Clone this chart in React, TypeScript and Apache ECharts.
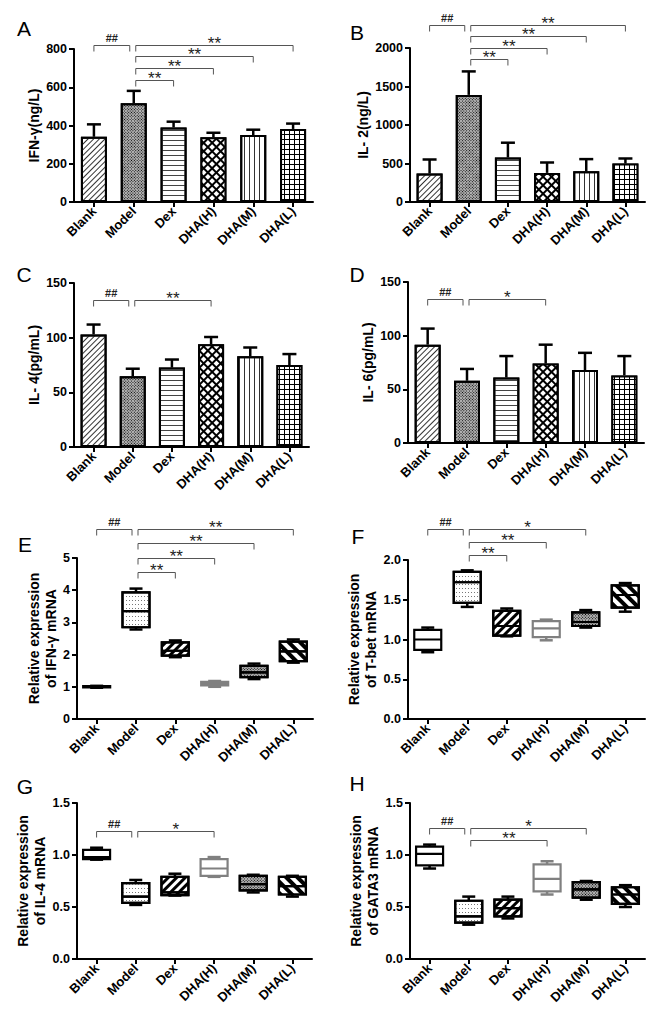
import React, { useEffect, useRef } from 'react';
import * as echarts from 'echarts';

const categories = ['Blank', 'Model', 'Dex', 'DHA(H)', 'DHA(M)', 'DHA(L)'];

// Panel A-D: mean and SD (upper error bar)
const ifnMean = [341, 516, 390, 339, 350, 382];
const ifnSd = [65, 65, 30, 23, 28, 28];
const il2Mean = [370, 1391, 578, 378, 400, 500];
const il2Sd = [182, 305, 192, 135, 157, 65];
const il4Mean = [103, 64.6, 72.6, 94, 83, 75];
const il4Sd = [9, 7, 7.4, 6.6, 8, 10];
const il6Mean = [91.6, 58, 61, 74, 68, 63];
const il6Sd = [15, 11, 20, 17.6, 16, 18];

// Panel E-H: [min, Q1, median, Q3, max]
const ifnMrna = [
  [0.97, 0.98, 1.0, 1.02, 1.03],
  [2.78, 2.85, 3.35, 3.93, 4.05],
  [1.92, 1.97, 2.12, 2.38, 2.44],
  [1.0, 1.04, 1.1, 1.15, 1.18],
  [1.24, 1.3, 1.45, 1.65, 1.72],
  [1.75, 1.8, 2.1, 2.4, 2.47],
];
const tbetMrna = [
  [0.84, 0.87, 1.0, 1.12, 1.15],
  [1.41, 1.46, 1.72, 1.85, 1.87],
  [1.04, 1.05, 1.17, 1.36, 1.39],
  [0.99, 1.03, 1.14, 1.23, 1.25],
  [1.15, 1.17, 1.22, 1.34, 1.37],
  [1.35, 1.4, 1.56, 1.68, 1.71],
];
const il4Mrna = [
  [0.955, 0.96, 0.98, 1.05, 1.07],
  [0.52, 0.54, 0.6, 0.73, 0.76],
  [0.61, 0.615, 0.64, 0.79, 0.82],
  [0.79, 0.8, 0.87, 0.96, 0.98],
  [0.64, 0.66, 0.72, 0.8, 0.81],
  [0.6, 0.62, 0.7, 0.79, 0.8],
];
const gata3Mrna = [
  [0.87, 0.9, 1.01, 1.08, 1.1],
  [0.33, 0.35, 0.41, 0.56, 0.6],
  [0.39, 0.41, 0.49, 0.57, 0.6],
  [0.62, 0.65, 0.77, 0.91, 0.94],
  [0.57, 0.59, 0.67, 0.74, 0.75],
  [0.5, 0.53, 0.62, 0.69, 0.71],
];

// significance brackets: [fromIndex, toIndex, level (axis units), label]
const sigA = [[0, 1, 823, '##'], [1, 5, 823, '**'], [1, 4, 761, '**'], [1, 3, 700, '**'], [1, 2, 639, '**']];
const sigB = [[0, 1, 2304, '##'], [1, 5, 2304, '**'], [1, 4, 2160, '**'], [1, 3, 2000, '**'], [1, 2, 1857, '**']];
const sigC = [[0, 1, 134, '##'], [1, 3, 134, '**']];
const sigD = [[0, 1, 134, '##'], [1, 3, 134, '*']];
const sigE = [[0, 1, 5.9, '##'], [1, 5, 5.9, '**'], [1, 4, 5.48, '**'], [1, 3, 5.0, '**'], [1, 2, 4.58, '**']];
const sigF = [[0, 1, 2.388, '##'], [1, 4, 2.388, '*'], [1, 3, 2.23, '**'], [1, 2, 2.06, '**']];
const sigG = [[0, 1, 1.229, '##'], [1, 3, 1.229, '*']];
const sigH = [[0, 1, 1.26, '##'], [1, 4, 1.26, '*'], [1, 3, 1.147, '**']];

const FONT = '"Liberation Sans", Arial, sans-serif';

const checker = { symbol: 'rect', symbolSize: 1, dashArrayX: [1, 1], dashArrayY: [1, 1], rotation: Math.PI / 4, color: '#000' };

const barDecals: any[] = [
  { item: '#fff', decal: { symbol: 'rect', symbolSize: 1, dashArrayX: [1, 0], dashArrayY: [1, 3], rotation: -Math.PI / 4, color: '#333' } },
  { item: '#b5b5b5', decal: checker },
  { item: '#fff', decal: { symbol: 'rect', symbolSize: 1, dashArrayX: [1, 0], dashArrayY: [1, 3.3], color: '#444' } },
  { item: '#000', decal: { symbol: 'rect', symbolSize: 1, dashArrayX: [3.5, 2], dashArrayY: [3.5, 2], rotation: Math.PI / 4, color: '#fff' } },
  { item: '#fff', decal: { symbol: 'rect', symbolSize: 1, dashArrayX: [1, 0], dashArrayY: [1, 4], rotation: Math.PI / 2, color: '#333' } },
  { item: '#000', decal: { symbol: 'rect', symbolSize: 1, dashArrayX: [4, 1], dashArrayY: [4, 1], color: '#fff' } },
];

const boxStyles: any[] = [
  { item: '#fff', border: '#000', decal: null },
  { item: '#fff', border: '#000', decal: { symbol: 'rect', symbolSize: 1, dashArrayX: [1, 2], dashArrayY: [1, 3], color: '#777' } },
  { item: '#fff', border: '#000', decal: { symbol: 'rect', symbolSize: 1, dashArrayX: [1, 0], dashArrayY: [3, 3], rotation: -Math.PI / 4, color: '#000' } },
  { item: '#fff', border: '#808080', decal: null },
  { item: '#b5b5b5', border: '#000', decal: checker },
  { item: '#fff', border: '#000', decal: { symbol: 'rect', symbolSize: 1, dashArrayX: [1, 0], dashArrayY: [3.5, 3.5], rotation: Math.PI / 4, color: '#000' } },
];

const barPanels = [
  { letter: 'A', mean: ifnMean, sd: ifnSd, sig: sigA, max: 800, interval: 200, name: 'IFN-γ(ng/L)', grid: { left: 74, top: 49, width: 239, height: 153 }, nameGap: 28, lp: [24, 28] },
  { letter: 'B', mean: il2Mean, sd: il2Sd, sig: sigB, max: 2000, interval: 500, name: 'IL- 2(ng/L)', grid: { left: 410, top: 48, width: 235, height: 154 }, nameGap: 34, lp: [357, 32] },
  { letter: 'C', mean: il4Mean, sd: il4Sd, sig: sigC, max: 150, interval: 50, name: 'IL- 4(pg/mL)', grid: { left: 74, top: 283, width: 235, height: 164 }, nameGap: 28, lp: [24, 274] },
  { letter: 'D', mean: il6Mean, sd: il6Sd, sig: sigD, max: 150, interval: 50, name: 'IL- 6(pg/mL)', grid: { left: 408, top: 282, width: 236, height: 161 }, nameGap: 28, lp: [357, 274] },
];

const boxPanels = [
  { letter: 'E', data: ifnMrna, sig: sigE, max: 5, interval: 1, dec: 0, name: 'Relative expression\nof IFN-γ mRNA', grid: { left: 77, top: 558, width: 236, height: 161 }, nameGap: 9, lp: [25, 544] },
  { letter: 'F', data: tbetMrna, sig: sigF, max: 2, interval: 0.5, dec: 1, name: 'Relative expression\nof T-bet mRNA', grid: { left: 408, top: 560, width: 237, height: 159 }, nameGap: 17, lp: [358, 536] },
  { letter: 'G', data: il4Mrna, sig: sigG, max: 1.5, interval: 0.5, dec: 1, name: 'Relative expression\nof IL-4 mRNA', grid: { left: 77, top: 803, width: 235, height: 156 }, nameGap: 21, lp: [25, 786] },
  { letter: 'H', data: gata3Mrna, sig: sigH, max: 1.5, interval: 0.5, dec: 1, name: 'Relative expression\nof GATA3 mRNA', grid: { left: 410, top: 803, width: 235, height: 156 }, nameGap: 22, lp: [357, 783] },
];

function makeAxes(idx: number, p: any, dec: number | null) {
  const x = {
    type: 'category', gridIndex: idx, data: categories,
    axisLine: { show: true, lineStyle: { color: '#000', width: 2 } },
    axisTick: { show: true, alignWithLabel: true, length: 5, lineStyle: { color: '#000', width: 2 } },
    axisLabel: { rotate: 45, interval: 0, margin: 7, fontSize: 13, fontWeight: 'bold', fontFamily: FONT, color: '#000' },
    splitLine: { show: false },
  };
  const y = {
    type: 'value', gridIndex: idx, min: 0, max: p.max, interval: p.interval,
    name: p.name, nameLocation: 'middle', nameRotate: 90, nameGap: p.nameGap,
    nameTextStyle: { fontSize: 14, fontWeight: 'bold', fontFamily: FONT, color: '#000', lineHeight: 17 },
    axisLine: { show: true, lineStyle: { color: '#000', width: 2 } },
    axisTick: { show: true, length: 5, lineStyle: { color: '#000', width: 2 } },
    axisLabel: {
      margin: 7, fontSize: 12.5, fontWeight: 'bold', fontFamily: FONT, color: '#000',
      formatter: (v: number) => (dec == null ? String(v) : v.toFixed(dec)),
    },
    splitLine: { show: false },
  };
  return { x, y };
}

function bracketSeries(idx: number, sig: any[]) {
  return {
    type: 'custom', xAxisIndex: idx, yAxisIndex: idx, clip: false, silent: true, z: 5,
    encode: { x: [0, 1], y: 2 },
    data: sig.map((s) => [s[0], s[1], s[2]]),
    renderItem: (params: any, api: any) => {
      const f = api.value(0), t = api.value(1), lv = api.value(2);
      const label = sig[params.dataIndex][3];
      const pf = api.coord([f, lv]);
      const pt = api.coord([t, lv]);
      const isHash = label === '##';
      const x1 = pf[0] + (f === 1 ? 2 : 0);
      const x2 = pt[0] - (isHash ? 4 : 0);
      const y = Math.round(pf[1]) + 0.5;
      const drop = 6;
      return {
        type: 'group',
        children: [
          { type: 'polyline', shape: { points: [[x1, y + drop], [x1, y], [x2, y], [x2, y + drop]] }, style: { stroke: '#555', lineWidth: 1, fill: null } },
          isHash
            ? { type: 'text', x: (x1 + x2) / 2, y: y - 2, style: { text: label, fontSize: 11, fontWeight: 'bold', fontFamily: FONT, fill: '#222', align: 'center', verticalAlign: 'bottom' } }
            : { type: 'text', x: (x1 + x2) / 2, y: y + 6, style: { text: label, fontSize: 17, fontFamily: FONT, fill: '#222', align: 'center', verticalAlign: 'bottom' } },
        ],
      };
    },
  };
}

function buildOption() {
  const grid: any[] = [];
  const xAxis: any[] = [];
  const yAxis: any[] = [];
  const series: any[] = [];
  const graphic: any[] = [];

  barPanels.forEach((p, i) => {
    grid.push({ ...p.grid, containLabel: false });
    const ax = makeAxes(i, p, null);
    xAxis.push(ax.x);
    yAxis.push(ax.y);
    series.push({
      type: 'bar', xAxisIndex: i, yAxisIndex: i, barWidth: 26,
      data: p.mean.map((v, k) => ({
        value: v,
        itemStyle: { color: barDecals[k].item, borderColor: '#000', borderWidth: 2, decal: barDecals[k].decal },
      })),
    });
    series.push({
      type: 'custom', xAxisIndex: i, yAxisIndex: i, z: 4, silent: true,
      encode: { x: 0, y: 1 },
      data: p.mean.map((v, k) => [k, v, p.sd[k]]),
      renderItem: (params: any, api: any) => {
        const k = api.value(0), m = api.value(1), s = api.value(2);
        const p0 = api.coord([k, m]);
        const p1 = api.coord([k, m + s]);
        return {
          type: 'group',
          children: [
            { type: 'line', shape: { x1: p0[0], y1: p0[1], x2: p1[0], y2: p1[1] }, style: { stroke: '#000', lineWidth: 2.5 } },
            { type: 'line', shape: { x1: p1[0] - 7, y1: p1[1], x2: p1[0] + 7, y2: p1[1] }, style: { stroke: '#000', lineWidth: 2.5 } },
          ],
        };
      },
    });
    series.push(bracketSeries(i, p.sig));
    graphic.push({ type: 'text', x: p.lp[0], y: p.lp[1], style: { text: p.letter, fontSize: 21, fontFamily: FONT, fill: '#000', align: 'center', verticalAlign: 'middle' } });
  });

  boxPanels.forEach((p, j) => {
    const i = j + 4;
    grid.push({ ...p.grid, containLabel: false });
    const ax = makeAxes(i, p, p.dec);
    xAxis.push(ax.x);
    yAxis.push(ax.y);
    series.push({
      type: 'boxplot', xAxisIndex: i, yAxisIndex: i, boxWidth: [27, 27],
      data: p.data.map((d, k) => ({
        value: [d[1], d[1], d[2], d[3], d[3]],
        itemStyle: { color: boxStyles[k].item, borderColor: boxStyles[k].border, borderWidth: 2.2, decal: boxStyles[k].decal || undefined },
      })),
    });
    series.push({
      type: 'custom', xAxisIndex: i, yAxisIndex: i, z: 4, silent: true,
      encode: { x: 0, y: [1, 2, 3, 4] },
      data: p.data.map((d, k) => [k, d[0], d[1], d[3], d[4]]),
      renderItem: (params: any, api: any) => {
        const k = api.value(0);
        const col = boxStyles[k].border;
        const pMin = api.coord([k, api.value(1)]);
        const pQ1 = api.coord([k, api.value(2)]);
        const pQ3 = api.coord([k, api.value(3)]);
        const pMax = api.coord([k, api.value(4)]);
        const st = { stroke: col, lineWidth: 2.5 };
        return {
          type: 'group',
          children: [
            { type: 'line', shape: { x1: pQ3[0], y1: pQ3[1], x2: pMax[0], y2: pMax[1] }, style: st },
            { type: 'line', shape: { x1: pMax[0] - 6.5, y1: pMax[1], x2: pMax[0] + 6.5, y2: pMax[1] }, style: st },
            { type: 'line', shape: { x1: pQ1[0], y1: pQ1[1], x2: pMin[0], y2: pMin[1] }, style: st },
            { type: 'line', shape: { x1: pMin[0] - 6.5, y1: pMin[1], x2: pMin[0] + 6.5, y2: pMin[1] }, style: st },
          ],
        };
      },
    });
    series.push(bracketSeries(i, p.sig));
    graphic.push({ type: 'text', x: p.lp[0], y: p.lp[1], style: { text: p.letter, fontSize: 21, fontFamily: FONT, fill: '#000', align: 'center', verticalAlign: 'middle' } });
  });

  return { animation: false, backgroundColor: '#fff', grid, xAxis, yAxis, series, graphic };
}

export default function App() {
  const ref = useRef<HTMLDivElement>(null);
  useEffect(() => {
    document.body.style.margin = '0';
    if (!ref.current) return;
    const chart = echarts.init(ref.current, null, { renderer: 'svg' });
    chart.setOption(buildOption() as any);
    return () => chart.dispose();
  }, []);
  return <div ref={ref} style={{ width: 659, height: 1020 }} />;
}
